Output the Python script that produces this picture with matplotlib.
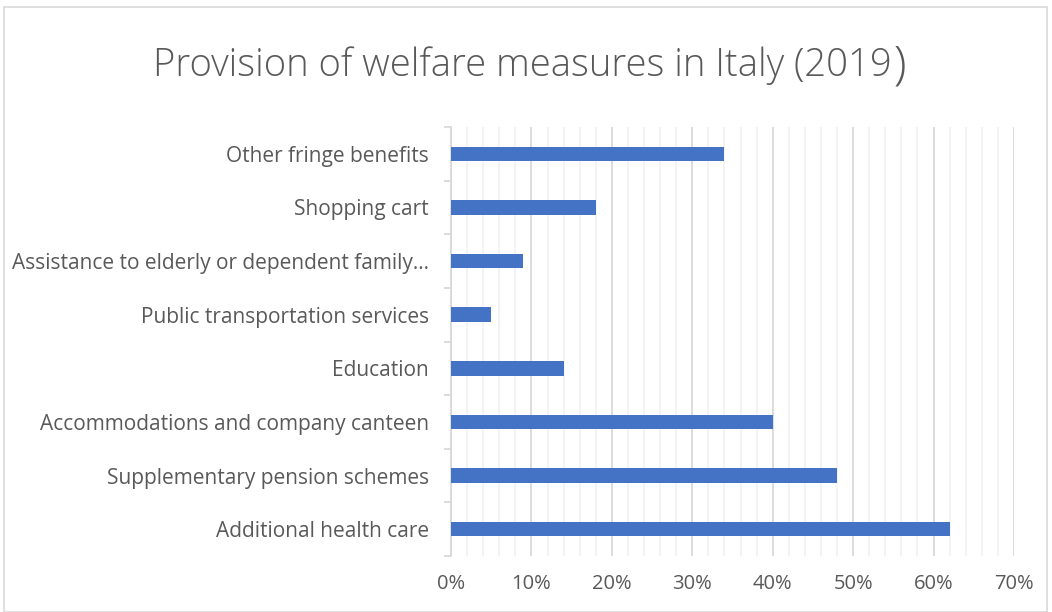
import matplotlib.pyplot as plt
import numpy as np
from matplotlib.ticker import MultipleLocator, PercentFormatter

# welfare measures, bottom to top
measures = [
    'Additional health care',
    'Supplementary pension schemes',
    'Accommodations and company canteen',
    'Education',
    'Public transportation services',
    'Assistance to elderly or dependent family…',
    'Shopping cart',
    'Other fringe benefits',
]
shares = [0.62, 0.48, 0.40, 0.14, 0.05, 0.09, 0.18, 0.34]

text_col = '#595959'
plt.rcParams['font.family'] = ['Open Sans', 'DejaVu Sans']

fig = plt.figure(figsize=(10.52, 6.12), dpi=100)
ax = fig.add_axes([451 / 1052, 1 - 556 / 612, (1014 - 451) / 1052, (556 - 127) / 612])

y = np.arange(len(measures))
ax.barh(y, shares, height=0.27, color='#4472C4', zorder=3)

ax.set_xlim(0, 0.70)
ax.set_ylim(-0.5, len(measures) - 0.5)
ax.xaxis.set_major_locator(MultipleLocator(0.10))
ax.xaxis.set_minor_locator(MultipleLocator(0.02))
ax.xaxis.set_major_formatter(PercentFormatter(1.0, decimals=0))
ax.grid(True, axis='x', which='major', color='#D9D9D9', linewidth=1.3, zorder=0)
ax.grid(True, axis='x', which='minor', color='#F2F2F2', linewidth=1.3, zorder=0)
ax.tick_params(axis='x', which='both', length=0, labelsize=14.5, colors=text_col, pad=13)

ax.set_yticks(y)
ax.set_yticklabels(measures)
ax.set_yticks(np.arange(-0.5, len(measures)), minor=True)
ax.tick_params(axis='y', which='major', length=0, labelsize=15, colors=text_col, pad=16)
ax.tick_params(axis='y', which='minor', length=5, color='#D9D9D9', width=1.3)

for s in ['top', 'right', 'bottom']:
    ax.spines[s].set_visible(False)
ax.spines['left'].set_color('#D9D9D9')
ax.spines['left'].set_linewidth(1.3)

# title, closing bracket drawn a bit larger
t = fig.text(0.497, 1 - 66 / 612, 'Provision of welfare measures in Italy (2019',
             ha='center', va='center', fontsize=27.5, color=text_col, fontweight='light')
fig.canvas.draw()
bb = t.get_window_extent()
fig.text(bb.x1 / 1052 + 0.001, 1 - 66 / 612, ')', ha='left', va='center',
         fontsize=33, color=text_col, fontweight='light')

# chart frame
fig.patches.append(plt.Rectangle((4 / 1052, 0), 1043 / 1052, 1 - 7 / 612,
                                 transform=fig.transFigure, fill=False,
                                 edgecolor='#D9D9D9', linewidth=1.2))

fig.savefig('out.png', dpi=100)
